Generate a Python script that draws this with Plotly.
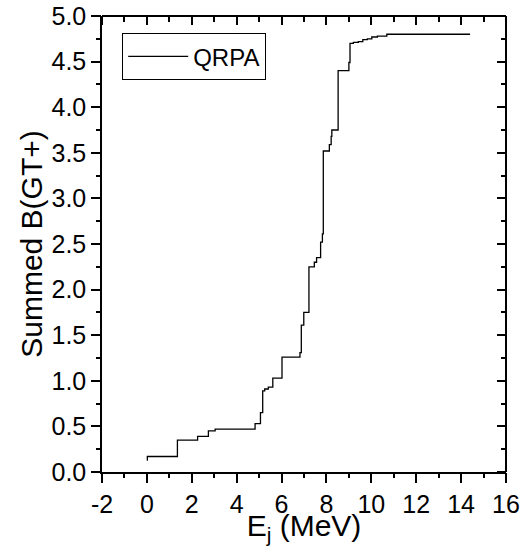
import plotly.graph_objects as go

# Step data: excitation energy (MeV) and cumulative summed B(GT+)
energy = [0.0, 0.02, 1.36, 2.26, 2.74, 3.04, 4.82, 5.06, 5.16, 5.25, 5.41, 5.61,
          6.02, 6.82, 6.88, 6.99, 7.22, 7.46, 7.56, 7.74, 7.82, 7.86, 8.13, 8.21,
          8.24, 8.52, 9.00, 9.05, 9.20, 9.42, 9.62, 9.82, 10.02, 10.27, 10.69, 14.4]
summed_bgt = [0.13, 0.17, 0.35, 0.39, 0.45, 0.47, 0.53, 0.65, 0.89, 0.91, 0.93, 1.03,
              1.26, 1.31, 1.61, 1.75, 2.25, 2.30, 2.35, 2.52, 2.61, 3.52, 3.59, 3.68,
              3.75, 4.40, 4.49, 4.70, 4.71, 4.72, 4.74, 4.75, 4.77, 4.78, 4.80, 4.80]

x_ticks = list(range(-2, 17, 2))
x_ticktext = [str(v) for v in x_ticks]
x_minor = list(range(-1, 16, 2))
y_ticks = [i * 0.5 for i in range(11)]
y_ticktext = [f"{v:.1f}" for v in y_ticks]
y_minor = [0.25 + 0.5 * i for i in range(10)]

X_RANGE = [-2, 16]
Y_RANGE = [0, 5]

FONT = "Liberation Sans, Arial, sans-serif"
FS = 25

fig = go.Figure()
fig.add_trace(go.Scatter(
    x=energy, y=summed_bgt, mode="lines", line=dict(shape="hv", color="black", width=1.3),
    name="QRPA"))
for xa, ya in [("x2", "y2"), ("x3", "y3"), ("x4", "y4"), ("x5", "y5")]:
    fig.add_trace(go.Scatter(x=[X_RANGE[0]], y=[Y_RANGE[0]], xaxis=xa, yaxis=ya, mode="markers",
                             marker=dict(opacity=0), showlegend=False, hoverinfo="skip"))

base = dict(showgrid=False, zeroline=False, tickcolor="#000000", tickwidth=2,
            linecolor="#000000", linewidth=1.5, tickmode="array", ticks="outside")
deco = dict(showticklabels=False, **base)

fig.update_layout(
    template="none",
    width=528, height=546,
    margin=dict(l=102, r=22, t=16, b=74),
    plot_bgcolor="rgba(0,0,0,0)", paper_bgcolor="white",
    font=dict(family=FONT, size=FS, color="black"),
    xaxis=dict(range=X_RANGE, tickvals=x_ticks, ticktext=x_ticktext, ticklen=9, showline=True,
               title=dict(text="E<sub>j</sub> (MeV)", standoff=2),
               tickfont=dict(color="black", size=FS), **base),
    yaxis=dict(range=Y_RANGE, tickvals=y_ticks, ticktext=y_ticktext, ticklen=9, showline=True,
               title=dict(text="Summed B(GT+)", standoff=0),
               tickfont=dict(color="black", size=FS), **base),
    xaxis2=dict(range=X_RANGE, overlaying="x", side="bottom", anchor="free", position=1,
                tickvals=x_ticks, ticklen=8, showline=True, **deco),
    yaxis2=dict(range=Y_RANGE, overlaying="y", side="left", anchor="free", position=1,
                tickvals=y_ticks, ticklen=8, showline=True, **deco),
    xaxis3=dict(range=X_RANGE, overlaying="x", side="bottom", anchor="y3",
                tickvals=x_minor, ticklen=5, showline=False, **deco),
    yaxis3=dict(range=Y_RANGE, overlaying="y", side="left", anchor="x3",
                tickvals=y_minor, ticklen=5, showline=False, **deco),
    xaxis4=dict(range=X_RANGE, overlaying="x", side="bottom", anchor="free", position=1,
                tickvals=x_minor, ticklen=5, showline=False, **deco),
    yaxis4=dict(range=Y_RANGE, overlaying="y", side="left", anchor="free", position=1,
                tickvals=y_minor, ticklen=5, showline=False, **deco),
    xaxis5=dict(range=X_RANGE, overlaying="x", side="bottom", anchor="y5",
                tickvals=x_ticks, ticklen=9, showline=False, **deco),
    yaxis5=dict(range=Y_RANGE, overlaying="y", side="left", anchor="x5",
                tickvals=y_ticks, ticklen=9, showline=False, **deco),
    legend=dict(x=0.05, y=0.962, xanchor="left", yanchor="top", bordercolor="black",
                borderwidth=1, bgcolor="white", font=dict(size=24), itemwidth=60,
                tracegroupgap=0),
    showlegend=True,
)

fig.write_html("out.html")
